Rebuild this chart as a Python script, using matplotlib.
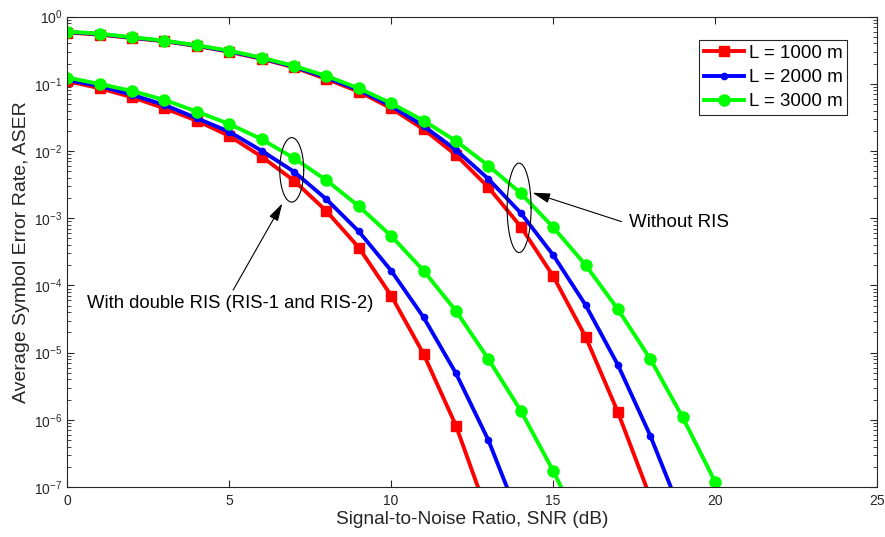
import numpy as np
import matplotlib
matplotlib.use("Agg")
import matplotlib.pyplot as plt

plt.rcParams['font.family'] = ['Liberation Sans', 'DejaVu Sans']
plt.rcParams['mathtext.fontset'] = 'custom'
plt.rcParams['mathtext.rm'] = 'Liberation Sans'
plt.rcParams['mathtext.it'] = 'Liberation Sans'

# SNR grid (dB)
snr = np.arange(0, 22)

# ASER without RIS
noris_1000 = [0.58, 0.54, 0.48, 0.43, 0.365, 0.30, 0.235, 0.176, 0.118, 0.0766, 0.0433,
              0.0211, 8.75e-3, 2.89e-3, 7.5e-4, 1.38e-4, 1.73e-5, 1.30e-6, 7.0e-8, 2e-9, 1e-10, 1e-11]
noris_2000 = [0.59, 0.55, 0.487, 0.435, 0.37, 0.305, 0.24, 0.18, 0.124, 0.081, 0.0469,
              0.0236, 0.0104, 3.85e-3, 1.20e-3, 2.84e-4, 5.13e-5, 6.56e-6, 5.82e-7, 3.6e-8, 1e-9, 1e-10]
noris_3000 = [0.598, 0.558, 0.494, 0.440, 0.375, 0.312, 0.245, 0.185, 0.131, 0.086, 0.0514,
              0.0283, 0.0141, 6.07e-3, 2.36e-3, 7.35e-4, 2.02e-4, 4.42e-5, 8.05e-6, 1.09e-6, 1.20e-7, 1e-8]

# ASER with double RIS (RIS-1 and RIS-2)
ris_1000 = [0.110, 0.086, 0.0632, 0.0433, 0.0283, 0.0168, 8.26e-3, 3.63e-3, 1.28e-3, 3.67e-4,
            7.05e-5, 9.57e-6, 8.2e-7, 3.7e-8, 1e-9]
ris_2000 = [0.114, 0.093, 0.0686, 0.0486, 0.0308, 0.0194, 0.0101, 4.93e-3, 1.92e-3, 6.37e-4,
            1.66e-4, 3.36e-5, 4.93e-6, 5.0e-7, 3.0e-8]
ris_3000 = [0.124, 0.0996, 0.0784, 0.0576, 0.0386, 0.0253, 0.0150, 7.82e-3, 3.68e-3, 1.51e-3,
            5.46e-4, 1.66e-4, 4.18e-5, 8.05e-6, 1.37e-6, 1.75e-7, 1.8e-8]

labels = ['L = 1000 m', 'L = 2000 m', 'L = 3000 m']
colors = ['#ff0000', '#0000ff', '#00ff00']
markers = ['s', 'o', 'o']
msizes = [7, 4.5, 8]

fig = plt.figure(figsize=(8.85, 5.37), dpi=100)
ax = fig.add_axes([0.076, 0.093, 0.915, 0.876])

lower = [ris_1000, ris_2000, ris_3000]
upper = [noris_1000, noris_2000, noris_3000]
for i in range(3):
    ax.semilogy(snr[:len(lower[i])], lower[i], color=colors[i], marker=markers[i],
                markersize=msizes[i], linewidth=2.8, label=labels[i])
for i in range(3):
    ax.semilogy(snr[:len(upper[i])], upper[i], color=colors[i], marker=markers[i],
                markersize=msizes[i], linewidth=2.8)

ax.set_xlim(0, 25)
ax.set_ylim(1e-7, 1)
ax.set_xticks(np.arange(0, 26, 5))
ax.set_yticks([10.0**k for k in range(-7, 1)])
ax.tick_params(which='both', direction='in', top=True, right=True, colors='#262626',
               labelsize=10, labelcolor='#262626')
ax.tick_params(axis='x', pad=5)
ax.tick_params(which='major', length=5)
ax.tick_params(which='minor', length=3)
for s in ax.spines.values():
    s.set_color('#262626')
    s.set_linewidth(0.8)

ax.set_xlabel('Signal-to-Noise Ratio, SNR (dB)', fontsize=13.8, color='#262626', labelpad=2)
ax.set_ylabel('Average Symbol Error Rate, ASER', fontsize=14, color='#262626', labelpad=3)

leg = ax.legend(loc='upper right', bbox_to_anchor=(0.963, 0.950), borderaxespad=0,
                fontsize=13.5, fancybox=False, edgecolor='#262626', framealpha=1,
                handlelength=2.15, handletextpad=0.25, borderpad=0.25, labelspacing=0.38)
leg.get_frame().set_linewidth(0.8)

# ellipses marking the curve groups
t = np.linspace(0, 2 * np.pi, 200)
for cx, a, lo, hi in [(6.93, 0.37, -2.76, -1.80), (13.95, 0.37, -3.51, -2.18)]:
    cl, b = (lo + hi) / 2, (hi - lo) / 2
    ax.plot(cx + a * np.cos(t), 10 ** (cl + b * np.sin(t)), color='black', linewidth=0.8)

arrow = dict(arrowstyle='-|>,head_length=0.9,head_width=0.25', color='black',
             linewidth=0.8, mutation_scale=12, shrinkA=0, shrinkB=0)
ax.annotate('', xy=(6.64, 10 ** -2.78), xytext=(5.12, 10 ** -4.07), arrowprops=arrow)
ax.annotate('', xy=(14.36, 10 ** -2.62), xytext=(17.11, 10 ** -3.05), arrowprops=arrow)
ax.text(0.62, 10 ** -4.265, 'With double RIS (RIS-1 and RIS-2)', fontsize=13.3,
        va='center', ha='left')
ax.text(17.35, 10 ** -3.065, 'Without RIS', fontsize=13.5, va='center', ha='left')

fig.savefig('out.png', dpi=100)
